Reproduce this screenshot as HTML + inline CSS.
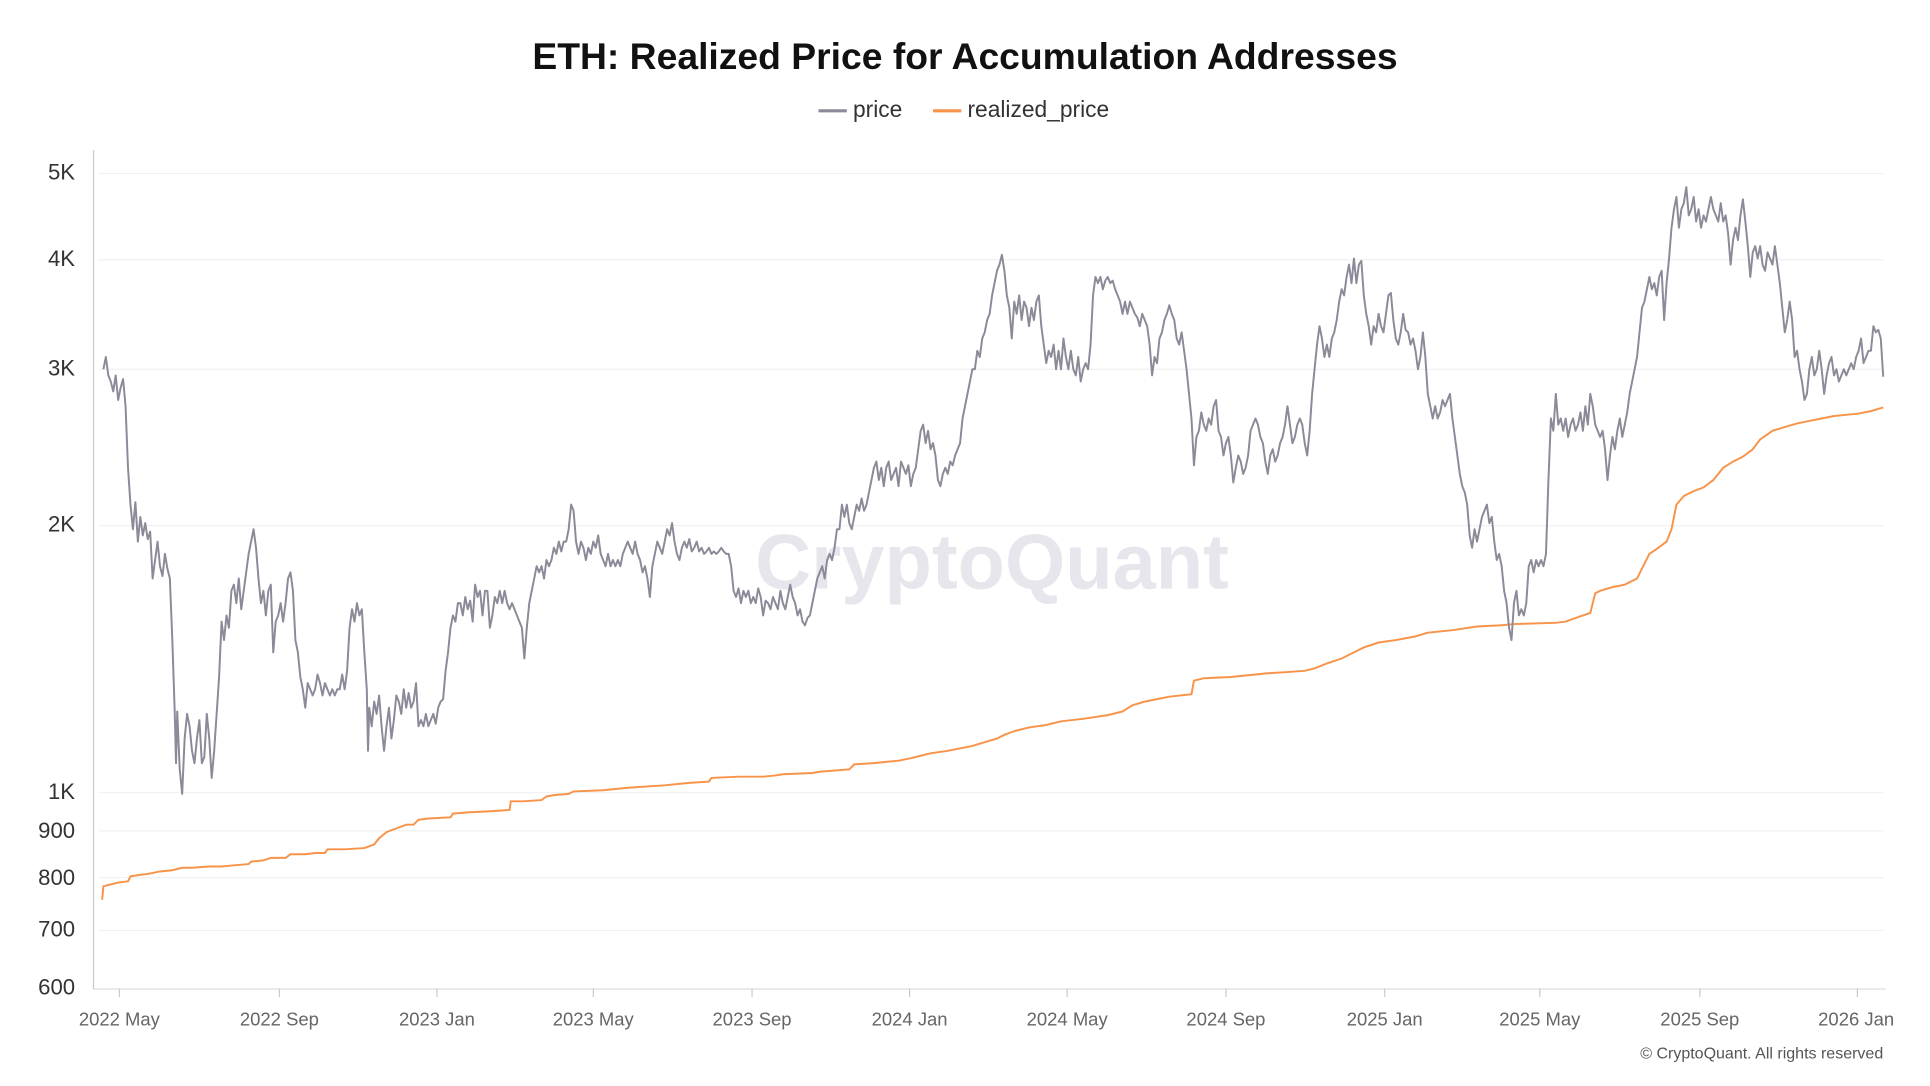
<!DOCTYPE html>
<html><head><meta charset="utf-8"><style>
html,body{margin:0;padding:0;background:#fff;}
svg{display:block;font-family:"Liberation Sans",sans-serif;}
</style></head><body>
<svg width="1930" height="1086" viewBox="0 0 1568 882.3" preserveAspectRatio="none">
<rect width="1568" height="883" fill="#fff"/>
<text x="784" y="56" text-anchor="middle" font-size="30.3" font-weight="bold" fill="#111">ETH: Realized Price for Accumulation Addresses</text>
<line x1="665" y1="90" x2="688" y2="90" stroke="#8a8a98" stroke-width="2.5"/>
<text x="693" y="95" font-size="18.5" fill="#333">price</text>
<line x1="758" y1="90" x2="781" y2="90" stroke="#f7944a" stroke-width="2.5"/>
<text x="786" y="95" font-size="18.5" fill="#333">realized_price</text>
<text x="806" y="478" text-anchor="middle" font-size="63" font-weight="bold" fill="#e6e6ec">CryptoQuant</text>
<g stroke="#f1f1f1" stroke-width="1">
<line x1="80" y1="141" x2="1530" y2="141"/><line x1="80" y1="211" x2="1530" y2="211"/>
<line x1="80" y1="300" x2="1530" y2="300"/><line x1="80" y1="427" x2="1530" y2="427"/>
<line x1="80" y1="644" x2="1530" y2="644"/><line x1="80" y1="675" x2="1530" y2="675"/>
<line x1="80" y1="713" x2="1530" y2="713"/><line x1="80" y1="756" x2="1530" y2="756"/>
</g>
<line x1="76" y1="122" x2="76" y2="804" stroke="#ccc"/>
<line x1="76" y1="803.5" x2="1532" y2="803.5" stroke="#ddd"/>
<g font-size="18" fill="#333" text-anchor="end">
<text x="61" y="146">5K</text><text x="61" y="216">4K</text><text x="61" y="305">3K</text>
<text x="61" y="432">2K</text><text x="61" y="649">1K</text><text x="61" y="681">900</text>
<text x="61" y="719">800</text><text x="61" y="761">700</text><text x="61" y="808">600</text>
</g>
<g stroke="#ccc">
<line x1="97" y1="803" x2="97" y2="810"/><line x1="227" y1="803" x2="227" y2="810"/><line x1="355" y1="803" x2="355" y2="810"/><line x1="482" y1="803" x2="482" y2="810"/><line x1="611" y1="803" x2="611" y2="810"/><line x1="739" y1="803" x2="739" y2="810"/><line x1="867" y1="803" x2="867" y2="810"/><line x1="996" y1="803" x2="996" y2="810"/><line x1="1125" y1="803" x2="1125" y2="810"/><line x1="1251" y1="803" x2="1251" y2="810"/><line x1="1381" y1="803" x2="1381" y2="810"/><line x1="1509" y1="803" x2="1509" y2="810"/>
</g>
<g font-size="15" fill="#666" text-anchor="middle">
<text x="97" y="833">2022 May</text><text x="227" y="833">2022 Sep</text><text x="355" y="833">2023 Jan</text><text x="482" y="833">2023 May</text><text x="611" y="833">2023 Sep</text><text x="739" y="833">2024 Jan</text><text x="867" y="833">2024 May</text><text x="996" y="833">2024 Sep</text><text x="1125" y="833">2025 Jan</text><text x="1251" y="833">2025 May</text><text x="1381" y="833">2025 Sep</text><text x="1508" y="833">2026 Jan</text>
</g>
<text x="1530" y="860" text-anchor="end" font-size="13" fill="#555">© CryptoQuant. All rights reserved</text>
<polyline fill="none" stroke="#f7944a" stroke-width="1.6" points="83,731 84,720 88,719 96,717 104,716 106,712 112,711 120,710 130,708 140,707 148,705 156,705 170,704 180,704 190,703 202,702 204,700 214,699 220,697 232,697 236,694 248,694 256,693 264,693 266,690 280,690 296,689 304,686 308,681 314,676 322,673 330,670 336,670 340,666 348,665 366,664 368,661 380,660 400,659 414,658 415,651 425,651 440,650 444,647 450,646 462,645 466,643 490,642 510,640 540,638 560,636 576,635 578,632 600,631 620,631 630,630 636,629 660,628 666,627 690,625 694,621 710,620 730,618 740,616 748,614 756,612 770,610 790,606 800,603 810,600 816,597 824,594 836,591 850,589 862,586 880,584 900,581 912,578 920,573 930,570 940,568 950,566 968,564 970,553 978,551 1000,550 1020,548 1030,547 1046,546 1060,545 1068,543 1078,539 1090,535 1100,530 1108,526 1120,522 1134,520 1150,517 1160,514 1180,512 1200,509 1220,508 1230,507 1264,506 1272,505 1286,500 1292,498 1296,482 1300,480 1310,477 1320,475 1330,470 1336,458 1340,450 1346,446 1354,440 1358,430 1362,410 1368,403 1376,399 1384,396 1392,390 1400,380 1408,375 1416,371 1424,365 1430,357 1440,350 1450,347 1460,344 1470,342 1480,340 1490,338 1500,337 1510,336 1520,334 1530,331"/>
<polyline fill="none" stroke="#8a8a98" stroke-width="1.6" stroke-linejoin="round" points="84,300 86,290 88,305 90,310 92,318 94,305 96,325 98,315 100,308 102,330 104,380 106,410 108,430 110,408 112,440 114,420 116,435 118,425 120,438 122,432 124,470 126,455 128,440 130,460 132,468 134,450 136,462 138,470 140,520 142,580 143,620 144,578 146,625 148,645 150,600 152,580 154,590 156,610 158,620 160,600 162,585 164,620 166,615 168,580 170,600 172,632 174,610 176,580 178,550 180,505 182,520 184,500 186,510 188,480 190,475 192,490 194,470 196,495 198,480 200,465 202,450 204,440 206,430 208,445 210,470 212,490 214,480 216,500 218,480 220,475 222,530 224,505 226,500 228,490 230,505 232,490 234,470 236,465 238,480 240,520 242,530 244,550 246,560 248,575 250,555 252,560 254,565 256,560 258,548 260,555 262,565 264,555 266,560 268,565 270,560 272,565 274,560 276,560 278,548 280,560 282,545 284,510 286,495 288,505 290,490 292,500 294,495 296,530 298,560 299,610 300,575 302,590 304,570 306,580 308,565 310,590 312,610 314,590 316,575 318,600 320,585 322,565 324,570 326,580 328,560 330,575 332,563 334,575 336,570 338,555 340,590 342,585 344,590 346,580 348,590 350,585 352,580 354,588 356,575 358,570 360,568 362,545 364,530 366,510 368,500 370,505 372,490 374,490 376,500 378,485 380,495 382,488 384,505 386,475 388,485 390,480 392,500 394,480 396,480 398,510 400,500 402,485 404,490 406,480 408,490 410,480 412,490 414,495 416,490 418,495 420,500 422,505 424,510 426,535 428,510 430,490 432,480 434,470 436,460 438,465 440,460 442,470 444,455 446,460 448,455 450,445 452,450 454,440 456,448 458,440 460,440 462,430 464,410 466,415 468,440 470,450 472,440 474,445 476,455 478,445 480,450 482,440 484,445 486,435 488,450 490,455 492,460 494,450 496,460 498,455 500,460 502,455 504,460 506,450 508,445 510,440 512,445 514,450 516,440 518,450 520,455 522,465 524,460 526,470 528,485 530,460 532,450 534,440 536,445 538,450 540,440 542,430 544,435 546,425 548,440 550,450 552,455 554,445 556,440 558,445 560,438 562,448 564,445 566,440 568,448 570,445 572,450 574,448 576,445 578,450 580,448 582,450 584,448 586,445 588,448 590,450 592,450 594,460 596,480 598,485 600,478 602,490 604,480 606,485 608,480 610,490 612,485 614,490 616,478 618,485 620,500 622,488 624,490 626,495 628,485 630,490 632,495 634,480 636,490 638,495 640,485 642,475 644,485 646,490 648,500 650,495 652,505 654,508 656,502 658,500 660,490 662,480 664,470 666,465 668,460 670,470 672,455 674,450 676,455 678,445 680,430 682,430 684,410 686,420 688,410 690,425 692,430 694,420 696,410 698,415 700,405 702,415 704,410 706,400 708,390 710,380 712,375 714,390 716,380 718,395 720,380 722,375 724,390 726,385 728,380 730,395 732,375 734,380 736,385 738,378 740,395 742,385 744,380 746,365 748,350 750,345 752,360 754,350 756,365 758,360 760,370 762,390 764,395 766,385 768,380 770,385 772,375 774,378 776,370 778,365 780,360 782,340 784,330 786,320 788,310 790,300 792,300 794,285 796,290 798,275 800,270 802,260 804,255 806,240 808,230 810,220 812,215 814,207 816,220 818,240 820,250 822,275 824,245 826,255 828,240 830,260 832,245 834,250 836,265 838,250 840,260 842,245 844,240 846,265 848,280 850,295 852,285 854,290 856,280 858,300 860,285 862,300 864,275 866,290 868,300 870,285 872,300 874,305 876,290 878,310 880,300 882,295 884,300 886,280 888,240 890,225 892,230 894,225 896,235 898,228 900,225 902,230 904,228 906,235 908,240 910,245 912,255 914,245 916,255 918,245 920,250 922,255 924,258 926,265 928,255 930,260 932,265 934,280 936,305 938,290 940,295 942,275 944,270 946,260 948,255 950,248 952,255 954,260 956,275 958,280 960,270 962,285 964,300 966,320 968,340 970,378 972,355 974,350 976,335 978,345 980,350 982,340 984,345 986,330 988,325 990,350 992,355 994,370 996,360 998,355 1000,370 1002,392 1004,380 1006,370 1008,375 1010,385 1012,380 1014,370 1016,350 1018,345 1020,340 1022,345 1024,355 1026,360 1028,375 1030,385 1032,370 1034,365 1036,375 1038,370 1040,360 1042,355 1044,345 1046,330 1048,345 1050,360 1052,355 1054,345 1056,340 1058,345 1060,360 1062,370 1064,350 1066,320 1068,300 1070,280 1072,265 1074,275 1076,290 1078,280 1080,290 1082,275 1084,270 1086,260 1088,245 1090,235 1092,240 1094,225 1096,215 1098,230 1100,210 1102,230 1104,215 1106,212 1108,240 1110,255 1112,265 1114,280 1116,265 1118,270 1120,255 1122,265 1124,270 1126,255 1128,240 1130,238 1132,260 1134,275 1136,280 1138,270 1140,255 1142,268 1144,270 1146,280 1148,275 1150,285 1152,300 1154,290 1156,270 1158,290 1160,320 1162,330 1164,340 1166,330 1168,340 1170,335 1172,325 1174,330 1176,325 1178,320 1180,340 1182,355 1184,370 1186,385 1188,395 1190,400 1192,410 1194,435 1196,445 1198,430 1200,440 1202,430 1204,420 1206,415 1208,410 1210,425 1212,420 1214,440 1216,455 1218,450 1220,460 1222,480 1224,490 1226,510 1228,520 1230,490 1232,480 1234,500 1236,495 1238,500 1240,490 1242,460 1244,455 1246,465 1248,455 1250,460 1252,455 1254,460 1256,450 1258,390 1260,340 1262,350 1264,320 1266,345 1268,340 1270,350 1272,340 1274,355 1276,345 1278,340 1280,350 1282,345 1284,335 1286,350 1288,330 1290,345 1292,320 1294,330 1296,345 1298,350 1300,355 1302,350 1304,365 1306,390 1308,370 1310,355 1312,365 1314,350 1316,340 1318,355 1320,345 1322,335 1324,320 1326,310 1328,300 1330,290 1332,270 1334,250 1336,245 1338,235 1340,225 1342,235 1344,230 1346,240 1348,225 1350,220 1352,260 1354,230 1356,210 1358,185 1360,170 1362,160 1364,185 1366,170 1368,165 1370,152 1372,175 1374,170 1376,160 1378,180 1380,170 1382,185 1384,175 1386,180 1388,170 1390,160 1392,170 1394,175 1396,180 1398,165 1400,180 1402,175 1404,190 1406,215 1408,195 1410,185 1412,195 1414,175 1416,162 1418,180 1420,200 1422,225 1424,205 1426,200 1428,210 1430,200 1432,215 1434,220 1436,205 1438,210 1440,215 1442,200 1444,215 1446,230 1448,250 1450,270 1452,260 1454,245 1456,260 1458,290 1460,285 1462,300 1464,310 1466,325 1468,320 1470,300 1472,290 1474,305 1476,300 1478,285 1480,300 1482,320 1484,305 1486,295 1488,290 1490,305 1492,300 1494,310 1496,305 1498,300 1500,305 1502,300 1504,295 1506,300 1508,290 1510,285 1512,275 1514,295 1516,290 1518,285 1520,285 1522,265 1524,270 1526,268 1528,275 1530,306"/>
</svg>
</body></html>
